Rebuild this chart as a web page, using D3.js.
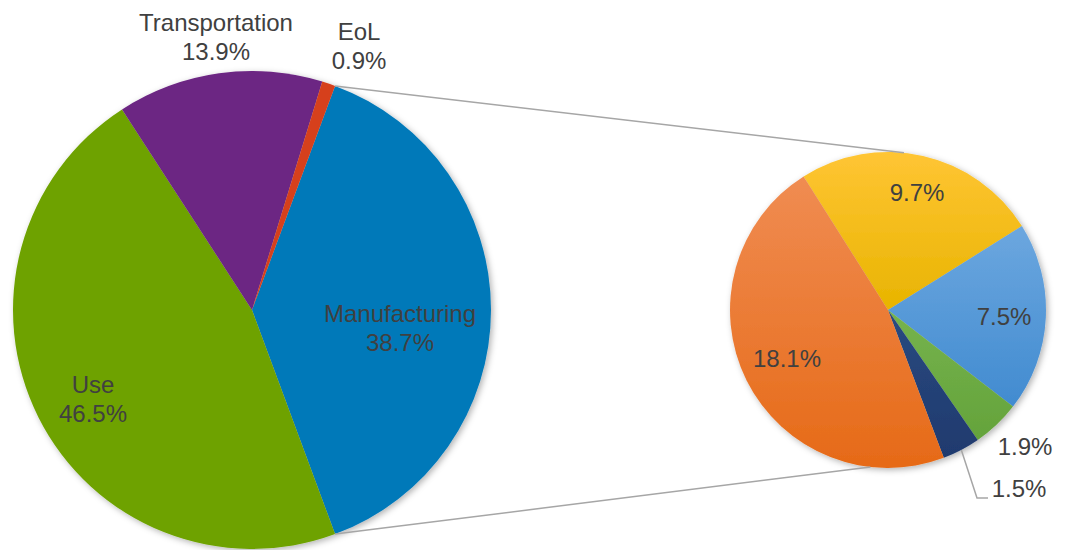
<!DOCTYPE html>
<html>
<head>
<meta charset="utf-8">
<script src="https://cdn.jsdelivr.net/npm/d3@7"></script>
<style>
  body { margin: 0; background: #fff; }
  text { font-family: "Liberation Sans", Arial, sans-serif; fill: #404040; }
</style>
</head>
<body>
<svg id="chart" width="1070" height="550"></svg>
<script>
// main pie
const mainNames = ['Manufacturing', 'Use', 'Transportation', 'EoL']
const mainValues = [38.7, 46.5, 13.9, 0.9]
const mainColors = ['#0079b9', '#6ea205', '#6c2583', '#d6401f']

// breakdown of Manufacturing (second pie)
const subValues = [9.7, 7.5, 1.9, 1.5, 18.1]
const subTop = ['#ffc534', '#6ca7df', '#76b34d', '#2a4a80', '#f08c52']
const subBottom = ['#e8b400', '#418bd0', '#64a33b', '#1f3a6e', '#e66a17']

const svg = d3.select('#chart')
const defs = svg.append('defs')

defs.append('filter').attr('id', 'shadow')
  .attr('x', '-10%').attr('y', '-10%').attr('width', '120%').attr('height', '120%')
  .append('feDropShadow')
  .attr('dx', 2).attr('dy', 2).attr('stdDeviation', 3)
  .attr('flood-color', '#000').attr('flood-opacity', 0.3)

subValues.forEach((v, i) => {
  let g = defs.append('linearGradient').attr('id', 'grad' + i)
    .attr('x1', 0).attr('y1', 0).attr('x2', 0).attr('y2', 1)
  g.append('stop').attr('offset', '0%').attr('stop-color', subTop[i])
  g.append('stop').attr('offset', '100%').attr('stop-color', subBottom[i])
})

const deg = Math.PI / 180

/****************************************************************
    Main pie
/****************************************************************/
const mainR = 239, mainCx = 252, mainCy = 310
const manuSpan = mainValues[0] / d3.sum(mainValues) * 360
const mainStart = (90 - manuSpan / 2) * deg

const mainPie = d3.pie().sort(null).value(d => d)
  .startAngle(mainStart).endAngle(mainStart + 2 * Math.PI)
const mainArcs = mainPie(mainValues)
const mainArc = d3.arc().innerRadius(0).outerRadius(mainR)

const gMain = svg.append('g').attr('transform', `translate(${mainCx},${mainCy})`)
gMain.append('g').attr('filter', 'url(#shadow)')
  .selectAll('path').data(mainArcs).join('path')
  .attr('d', mainArc)
  .attr('fill', (d, i) => mainColors[i])

/****************************************************************
    Second pie
/****************************************************************/
const subR = 158, subCx = 888, subCy = 310
const subStart = -32.3 * deg
const subPie = d3.pie().sort(null).value(d => d)
  .startAngle(subStart).endAngle(subStart + 2 * Math.PI)
const subArcs = subPie(subValues)
const subArc = d3.arc().innerRadius(0).outerRadius(subR)

const gSub = svg.append('g').attr('transform', `translate(${subCx},${subCy})`)
gSub.append('g').attr('filter', 'url(#shadow)')
  .selectAll('path').data(subArcs).join('path')
  .attr('d', subArc)
  .attr('fill', (d, i) => `url(#grad${i})`)

/****************************************************************
    Connector lines
/****************************************************************/
const polar = (cx, cy, r, a) => [cx + r * Math.sin(a), cy - r * Math.cos(a)]
const m0 = polar(mainCx, mainCy, mainR, mainArcs[0].startAngle)
const m1 = polar(mainCx, mainCy, mainR, mainArcs[0].endAngle)
const s0 = polar(subCx, subCy, subR, 5.8 * deg)
const s1 = polar(subCx, subCy, subR, 186.4 * deg)
svg.append('g').selectAll('line').data([[m0, s0], [m1, s1]]).join('line')
  .attr('x1', d => d[0][0]).attr('y1', d => d[0][1])
  .attr('x2', d => d[1][0]).attr('y2', d => d[1][1])
  .attr('stroke', '#a6a6a6').attr('stroke-width', 1.5)

/****************************************************************
    Labels
/****************************************************************/
const mainLabelPos = [[400, 322], [93, 393], [216, 31], [359, 40]]
const fmt = v => v.toFixed(1) + '%'
const labels = svg.append('g').attr('font-size', 24).attr('text-anchor', 'middle')
mainArcs.forEach((d, i) => {
  let t = labels.append('text').attr('x', mainLabelPos[i][0]).attr('y', mainLabelPos[i][1])
  t.append('tspan').text(mainNames[i])
  t.append('tspan').attr('x', mainLabelPos[i][0]).attr('dy', 29).text(fmt(mainValues[i]))
})

const subLabelPos = [[917, 201], [1004, 325], [1025, 455], [1019, 497], [787, 367]]
subArcs.forEach((d, i) => {
  labels.append('text').attr('x', subLabelPos[i][0]).attr('y', subLabelPos[i][1])
    .text(fmt(subValues[i]))
})

// leader line for the small 1.5% slice
const navyMid = polar(subCx, subCy, subR, (subArcs[3].startAngle + subArcs[3].endAngle) / 2)
svg.append('path')
  .attr('d', `M${navyMid[0]},${navyMid[1]}L977,498L988,498`)
  .attr('fill', 'none').attr('stroke', '#a6a6a6').attr('stroke-width', 1.5)
</script>
</body>
</html>
